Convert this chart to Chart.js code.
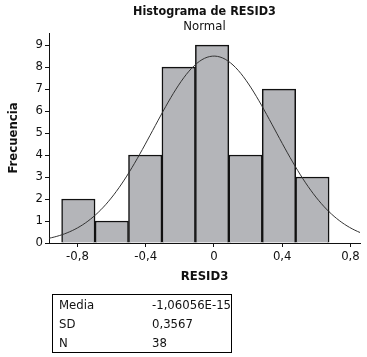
<!DOCTYPE html>
<html>
<head>
<meta charset="utf-8">
<script src="https://cdn.jsdelivr.net/npm/chart.js@4.4.0/dist/chart.umd.min.js"></script>
<style>
  html, body { margin: 0; padding: 0; background: #fff; }
  #wrap { position: relative; width: 367px; height: 357px; }
  #stats {
    position: absolute; left: 52px; top: 294px; width: 180px; height: 59px;
    border: 1px solid #000; box-sizing: border-box;
    font-family: 'DejaVu Sans Condensed', 'Liberation Sans Narrow', sans-serif;
    font-size: 13px; color: #111; white-space: nowrap;
  }
  #stats div { position: relative; height: 19px; line-height: 19px; }
  #stats span { position: absolute; }
  #stats .k { left: 6px; }
  #stats .v { left: 99px; }
</style>
</head>
<body>
<div id="wrap">
  <canvas id="histChart" width="367" height="357"></canvas>
  <div id="stats"></div>
</div>
<script>
const binCenters = [-0.795, -0.599, -0.403, -0.207, -0.011, 0.185, 0.381, 0.577];
const counts = [2, 1, 4, 8, 9, 4, 7, 3];
const xTicks = [-0.8, -0.4, 0, 0.4, 0.8];
const yTicks = [0, 1, 2, 3, 4, 5, 6, 7, 8, 9];
const statLabels = ['Media', 'SD', 'N'];
const statText = ['-1,06056E-15', '0,3567', '38'];
const mean = 0;
const sd = 0.3567;
const n = 38;
const binWidth = 0.2;

const FONT = "'DejaVu Sans Condensed', 'Liberation Sans Narrow', sans-serif";
const xMin = -0.967, xMax = 0.856;

// normal curve from the stats box
const curve = [];
for (let i = 0; i <= 120; i++) {
    const x = xMin + (xMax - xMin) * i / 120;
    const z = (x - mean) / sd;
    curve.push({ x, y: n * binWidth * Math.exp(-0.5 * z * z) / (sd * Math.sqrt(2 * Math.PI)) });
}

const fmt = v => v === 0 ? '0' : v.toFixed(1).replace('.', ',');

new Chart(document.getElementById('histChart'), {
    data: {
        datasets: [{
            type: 'line',
            data: curve,
            borderColor: '#333',
            borderWidth: 1,
            pointRadius: 0,
            tension: 0,
            order: 0
        }, {
            type: 'bar',
            data: binCenters.map((c, i) => ({ x: c, y: counts[i] })),
            backgroundColor: '#b4b5b9',
            borderColor: '#111',
            borderWidth: 1.5,
            barPercentage: 1,
            categoryPercentage: 1,
            order: 1
        }]
    },
    options: {
        responsive: false,
        animation: false,
        layout: { padding: { top: 0, right: 7, bottom: 69, left: 0 } },
        plugins: {
            legend: { display: false },
            tooltip: { enabled: false },
            title: {
                display: true,
                text: 'Histograma de RESID3',
                color: '#111',
                fullSize: false,
                font: { family: FONT, size: 12.5, weight: 'bold', lineHeight: 1.2 },
                padding: { top: 4, bottom: 1 }
            },
            subtitle: {
                display: true,
                text: 'Normal',
                color: '#111',
                fullSize: false,
                font: { family: FONT, size: 13, lineHeight: 1.0 },
                padding: { top: 0, bottom: 0 }
            }
        },
        scales: {
            x: {
                type: 'linear',
                offset: false,
                min: xMin,
                max: xMax,
                afterBuildTicks: s => { s.ticks = xTicks.map(v => ({ value: v })); },
                afterFit: s => { s.height = 45; },
                grid: { display: true, offset: false, drawOnChartArea: false, drawTicks: true, tickLength: 4, color: '#111' },
                border: { display: true, color: '#111', width: 1 },
                ticks: { color: '#111', padding: 2, maxRotation: 0, font: { family: FONT, size: 13 }, callback: v => fmt(v) },
                title: { display: true, text: 'RESID3', color: '#111', font: { family: FONT, size: 13, weight: 'bold' }, padding: { top: 0, bottom: 4 } }
            },
            y: {
                type: 'linear',
                min: 0,
                max: 9.55,
                afterBuildTicks: s => { s.ticks = yTicks.map(v => ({ value: v })); },
                afterFit: s => { s.width = 49; },
                grid: { display: true, drawOnChartArea: false, drawTicks: true, tickLength: 4, color: '#111' },
                border: { display: true, color: '#111', width: 1 },
                ticks: { color: '#111', padding: 2, font: { family: FONT, size: 13 } },
                title: { display: true, text: 'Frecuencia', color: '#111', font: { family: FONT, size: 13, weight: 'bold' }, padding: { top: 6, bottom: 0 } }
            }
        }
    }
});

document.getElementById('stats').innerHTML = statLabels.map((k, i) =>
    `<div><span class="k">${k}</span><span class="v">${statText[i]}</span></div>`
).join('');
</script>
</body>
</html>
